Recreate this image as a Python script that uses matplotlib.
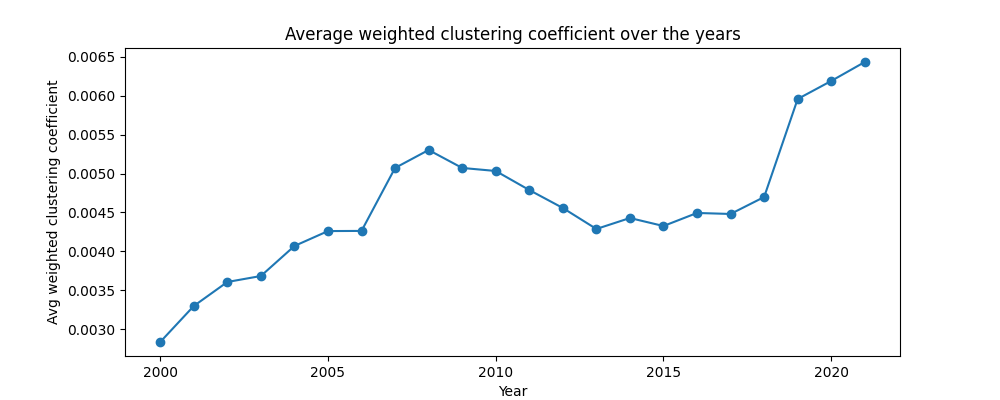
import matplotlib
matplotlib.use("Agg")
import matplotlib.pyplot as plt

years = list(range(2000, 2022))
avg_clustering = [
    0.002833, 0.003296, 0.003605, 0.003682, 0.004068, 0.004260,
    0.004262, 0.005072, 0.005303, 0.005072, 0.005033, 0.004788,
    0.004557, 0.004287, 0.004428, 0.004325, 0.004493, 0.004480,
    0.004698, 0.005959, 0.006191, 0.006435,
]

fig, ax = plt.subplots(figsize=(10, 4))
ax.plot(years, avg_clustering, marker='o')
ax.set_title("Average weighted clustering coefficient over the years")
ax.set_xlabel("Year")
ax.set_ylabel("Avg weighted clustering coefficient")
fig.savefig("out.png", dpi=100)
